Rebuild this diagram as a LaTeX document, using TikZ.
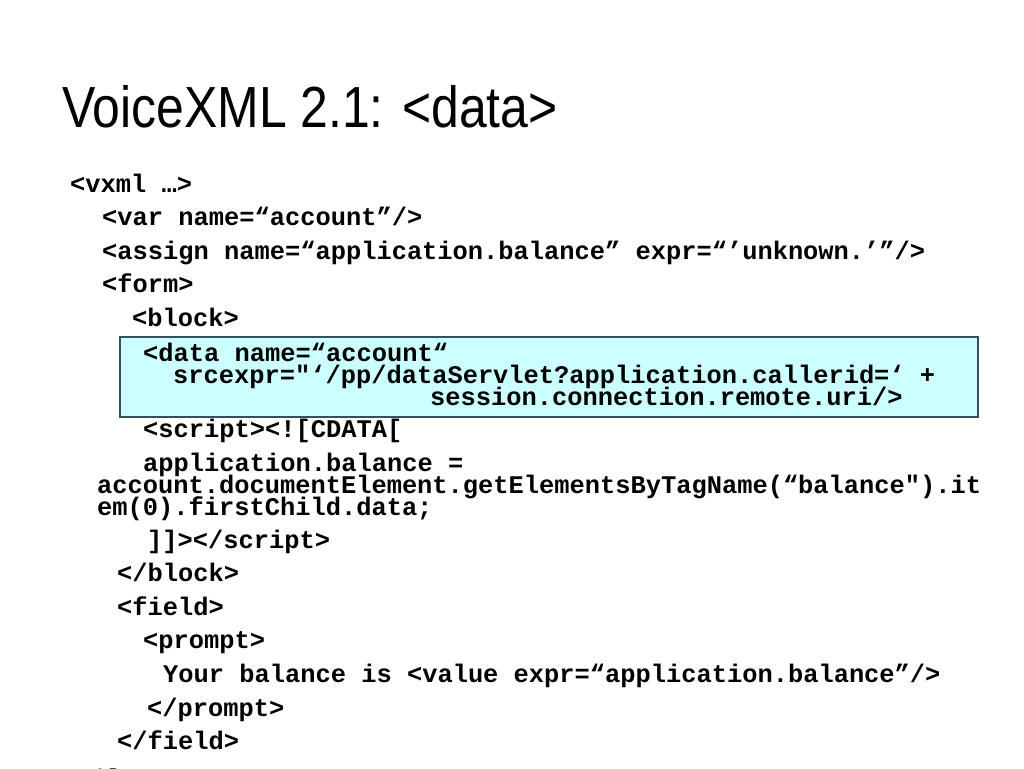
\documentclass[tikz,border=0pt]{standalone}
\usepackage{fontspec}
\setmainfont{Liberation Sans}
\newfontfamily\codefont{Liberation Mono}
\definecolor{boxfill}{HTML}{CCFFFF}
\definecolor{boxedge}{HTML}{34505C}
\tikzset{
  code/.style={anchor=base west, inner sep=0pt, font=\codefont\bfseries\fontsize{25.4}{21.5}\selectfont},
  slidetitle/.style={anchor=base west, inner sep=0pt, xscale=0.86, font=\fontsize{58}{58}\selectfont},
  databox/.style={draw=boxedge, fill=boxfill, line width=1.3pt}
}
\begin{document}
\begin{tikzpicture}[x=1pt,y=-1pt]
\path[use as bounding box, clip] (0,0) rectangle (1024,768);
\node[slidetitle] (title) at (62,127) {VoiceXML 2.1: <data>};
% data element box
\draw[databox] (120,337) rectangle (978,417);
\node[code] (vxml) at (70,192) {<vxml …>};
\node[code] (var) at (102,225) {<var name=“account”/>};
\node[code] (assign) at (102,259) {<assign name=“application.balance” expr=“’unknown.’”/>};
\node[code] (form) at (102,292) {<form>};
\node[code] (block) at (132,326) {<block>};
\node[code] (data1) at (143,361) {<data name=“account“};
\node[code] (data2) at (173,383) {srcexpr="‘/pp/dataServlet?application.callerid=‘ +};
\node[code] (data3) at (430,405) {session.connection.remote.uri/>};
\node[code] (script) at (143,437) {<script><![CDATA[};
\node[code] (js1) at (143,471) {application.balance =};
\node[code] (js2) at (97,493) {account.documentElement.getElementsByTagName(“balance").it};
\node[code] (js3) at (97,515) {em(0).firstChild.data;};
\node[code] (endscript) at (147,548) {]]></script>};
\node[code] (endblock) at (117,581) {</block>};
\node[code] (field) at (117,615) {<field>};
\node[code] (prompt) at (143,648) {<prompt>};
\node[code] (value) at (163,682) {Your balance is <value expr=“application.balance”/>};
\node[code] (endprompt) at (147,716) {</prompt>};
\node[code] (endfield) at (117,749) {</field>};
\node[code] (endform) at (72,787) {</form>};
\end{tikzpicture}
\end{document}
